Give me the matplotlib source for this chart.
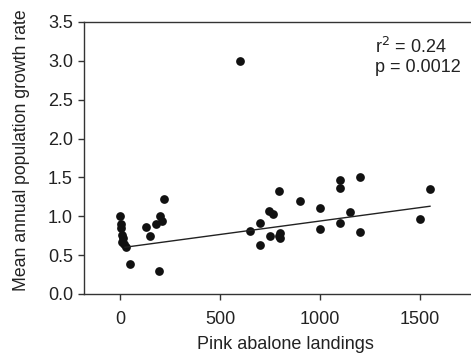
import matplotlib
matplotlib.use("Agg")
import matplotlib.pyplot as plt
import numpy as np

plt.rcParams['font.family'] = ['Liberation Sans', 'DejaVu Sans']

landings = [0, 5, 7, 12, 15, 10, 20, 30, 50, 128, 148, 178, 200, 212, 220, 197,
            600, 650, 700, 700, 750, 745, 767, 795, 795, 800, 800, 898, 998, 998,
            1098, 1098, 1098, 1148, 1198, 1198, 1498, 1548]
growth = [1.00, 0.90, 0.85, 0.76, 0.72, 0.67, 0.64, 0.60, 0.38, 0.86, 0.74, 0.90, 1.00,
          0.94, 1.22, 0.30, 3.00, 0.81, 0.91, 0.63, 0.75, 1.07, 1.03, 1.33, 0.74, 0.79,
          0.72, 1.20, 1.11, 0.83, 1.47, 1.37, 0.92, 1.05, 1.50, 0.80, 0.97, 1.35]

fit_intercept = 0.593
fit_slope = 0.000346
fit_x = [25, 1550]

xticks = [0, 500, 1000, 1500]
yticks = [0.0, 0.5, 1.0, 1.5, 2.0, 2.5, 3.0, 3.5]

FS = 13
TC = '#222222'

fig = plt.figure(figsize=(4.71, 3.56), dpi=100)
ax = fig.add_axes([84/471, 1-294/356, 1-84/471, (294-22)/356])

ax.plot(landings, growth, 'o', color='#111111', markersize=6.3, markeredgewidth=0)
fx = np.array(fit_x)
ax.plot(fx, fit_intercept + fit_slope*fx, color='#222222', lw=1.0)

ax.set_xlim(-180, 1755)
ax.set_ylim(0, 3.5)
ax.set_xticks(xticks)
ax.set_yticks(yticks)
ax.set_yticklabels([f"{v:.1f}" for v in yticks])
ax.spines['right'].set_visible(False)
for s in ['left', 'top', 'bottom']:
    ax.spines[s].set_color('#333333')
    ax.spines[s].set_linewidth(1.0)
ax.tick_params(direction='out', length=4, width=1.0, color='#333333',
               labelsize=FS, labelcolor=TC)
ax.tick_params(axis='x', pad=8)
ax.tick_params(axis='y', pad=4)

fig.text(285/471, 1-349/356, 'Pink abalone landings', fontsize=FS, color=TC,
         ha='center', va='baseline')
fig.text(22/471, 1-150/356, 'Mean annual population growth rate',
         fontsize=12.7, color=TC, ha='center', va='center', rotation=90)

fig.text(375/471, 1-53/356, 'r$^2$ = 0.24', fontsize=FS, color=TC, va='baseline', ha='left')
fig.text(375/471, 1-72/356, 'p = 0.0012', fontsize=FS, color=TC, va='baseline', ha='left')

fig.savefig('out.png', dpi=100)
